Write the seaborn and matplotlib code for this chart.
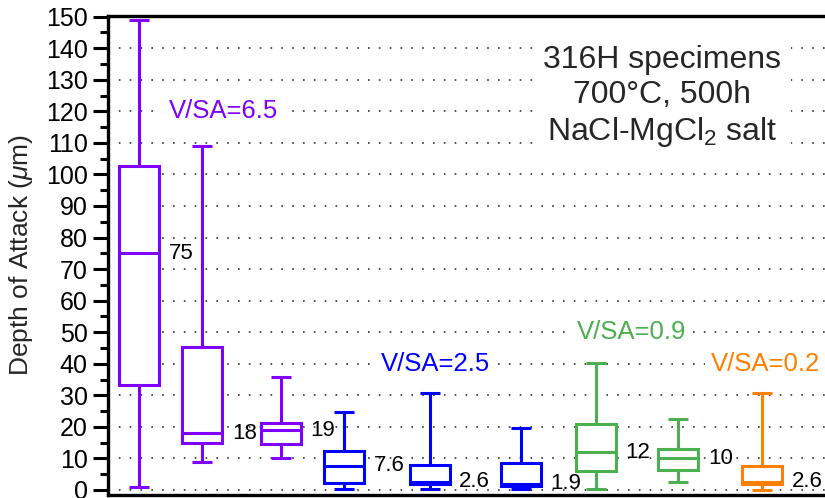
import numpy as np
import pandas as pd
import matplotlib
matplotlib.use("Agg")
import matplotlib.pyplot as plt
from matplotlib.ticker import MultipleLocator
import seaborn as sns

# Depth of attack (µm) summary for each 316H specimen, grouped by V/SA ratio
specimen = ["S1", "S2", "S3", "S4", "S5", "S6", "S7", "S8", "S9"]
vsa_group = ["V/SA=6.5", "V/SA=6.5", "V/SA=6.5",
             "V/SA=2.5", "V/SA=2.5", "V/SA=2.5",
             "V/SA=0.9", "V/SA=0.9", "V/SA=0.2"]
depth_min = [0.9, 8.9, 10.2, 0.3, 0.2, 0.3, 0.2, 2.6, 0.1]
depth_q1 = [33.3, 14.8, 14.5, 2.3, 2.0, 1.2, 6.1, 6.4, 2.0]
depth_median = [75, 18, 19, 7.6, 2.6, 1.9, 12, 10, 2.6]
depth_q3 = [102.8, 45.2, 21.2, 12.3, 7.8, 8.7, 20.9, 12.9, 7.5]
depth_max = [149, 109, 35.9, 24.7, 30.6, 19.5, 40.1, 22.4, 30.6]

vsa_levels = ["V/SA=6.5", "V/SA=2.5", "V/SA=0.9", "V/SA=0.2"]
vsa_colors = ["#7F00FF", "#0000FF", "#4CAF50", "#FF8000"]

# horizontal placement of the boxes and of the group captions
sample_pos = [0.39, 1.18, 2.16, 2.95, 4.02, 5.16, 6.10, 7.13, 8.18]
caption_x = [1.44, 4.09, 6.54, 8.22]
caption_y = [120, 40, 50, 40]

# five-number summary -> long table; with whis=(0, 100) the whiskers reach min/max
rows = []
for i in range(len(specimen)):
    for v in (depth_min[i], depth_q1[i], depth_median[i], depth_q3[i], depth_max[i]):
        rows.append({"pos": sample_pos[i], "depth": v, "group": vsa_group[i]})
df = pd.DataFrame(rows)

sns.set_theme(style="white")
plt.rcParams["font.family"] = ["Liberation Sans", "DejaVu Sans"]
plt.rcParams["mathtext.fontset"] = "custom"
plt.rcParams["mathtext.rm"] = "Liberation Sans"
plt.rcParams["mathtext.it"] = "Liberation Sans:italic"
plt.rcParams["mathtext.bf"] = "Liberation Sans:bold"

fig = plt.figure(figsize=(8.25, 4.98), dpi=100)
ax = fig.add_axes([0.131, 0.006, 0.892, 0.9625])

palette = dict(zip(vsa_levels, vsa_colors))
box_w = 0.5 / np.min(np.diff(sample_pos))
sns.boxplot(data=df, x="pos", y="depth", hue="group", hue_order=vsa_levels,
            palette=palette, native_scale=True, dodge=False, whis=(0, 100),
            width=box_w, linewidth=2.2, fill=True, saturation=1,
            showfliers=False, legend=False, ax=ax)

# open white boxes with coloured outlines, whiskers and medians
pos_arr = np.asarray(sample_pos)
pos_color = [palette[g] for g in vsa_group]
for patch in ax.patches:
    fc = patch.get_facecolor()
    patch.set_facecolor("white")
    patch.set_edgecolor(fc)
for line in ax.lines:
    xd = np.asarray(line.get_xdata(), dtype=float)
    if xd.size:
        idx = int(np.argmin(np.abs(pos_arr - xd.mean())))
        line.set_color(pos_color[idx])
        line.set_solid_capstyle("butt")

# median values next to each box
for i in range(len(specimen)):
    ax.annotate(f"{depth_median[i]:g}", xy=(sample_pos[i] + 0.25, depth_median[i]),
                xytext=(7, 0), textcoords="offset points",
                ha="left", va="center", fontsize=16, color="black", zorder=5)

# group captions
for lab, col, cx, cy in zip(vsa_levels, vsa_colors, caption_x, caption_y):
    ax.text(cx, cy, lab, color=col, fontsize=18.5, ha="center", va="center",
            zorder=4, bbox=dict(boxstyle="square,pad=0.25", fc="white", ec="none"))

ax.text(6.93, 124.5, "316H specimens\n700°C, 500h\nNaCl-MgCl$_2$ salt",
        fontsize=23, ha="center", va="center", linespacing=1.2, zorder=4,
        bbox=dict(boxstyle="square,pad=0.3", fc="white", ec="none"))

ax.set_xlim(0, 9.2)
ax.set_ylim(-1.6, 150.3)
ax.yaxis.set_major_locator(MultipleLocator(10))
ax.yaxis.set_minor_locator(MultipleLocator(5))
ax.set_xticks([])
ax.set_xlabel("")
ax.set_ylabel(r"Depth of Attack ($\mu$m)", fontsize=19, labelpad=8)
ax.tick_params(axis="y", which="major", direction="out", length=10.8, width=2.2,
               labelsize=18, pad=4, color="black", labelcolor="black", left=True)
ax.tick_params(axis="y", which="minor", direction="out", length=5.8, width=2.2,
               color="black", left=True)

ax.yaxis.grid(True, which="major", linestyle=(0, (1, 5.5)), color="#333333", linewidth=1.2)
ax.set_axisbelow(True)

for side in ("left", "top", "bottom"):
    ax.spines[side].set_visible(True)
    ax.spines[side].set_color("black")
    ax.spines[side].set_linewidth(2.4)
ax.spines["right"].set_visible(False)

fig.savefig("out.png", dpi=100)
